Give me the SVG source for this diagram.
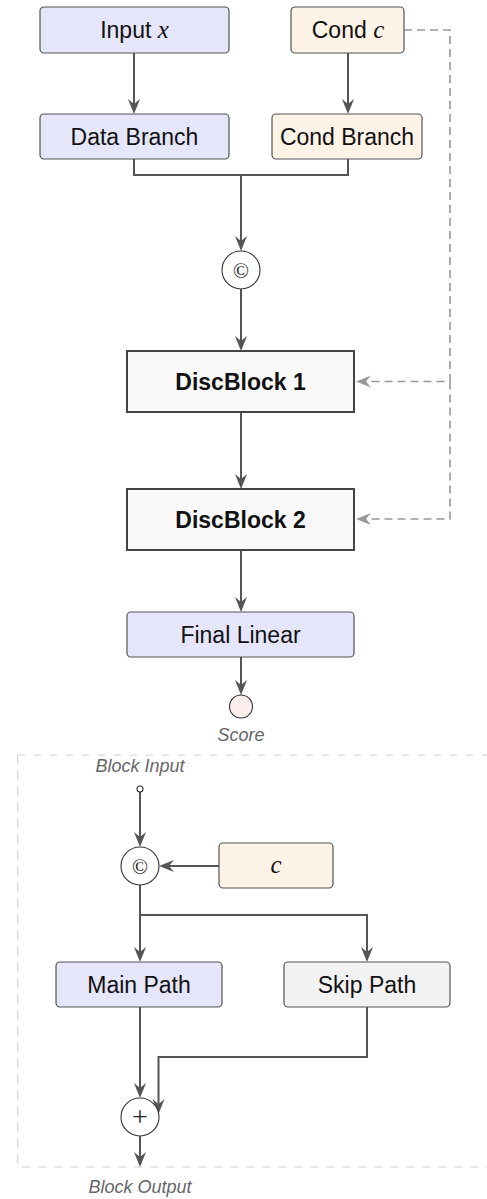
<svg xmlns="http://www.w3.org/2000/svg" width="487" height="1199" viewBox="0 0 487 1199">
<defs>
<style>
.node{stroke:#555;stroke-width:1.2}
.blue{fill:#e6e6fb}
.orange{fill:#fef3e7}
.gray{fill:#f2f2f2}
.disc{fill:#f8f8f8;stroke:#444;stroke-width:2}
.lbl{font-family:"Liberation Sans",Arial,sans-serif;font-size:23px;fill:#111;text-anchor:middle}
.bold{font-weight:bold}
.math{font-family:"Liberation Serif","Times New Roman",serif;font-style:italic;font-size:25px}
.cap{font-family:"Liberation Sans",Arial,sans-serif;font-style:italic;font-size:18px;fill:#666;text-anchor:middle}
.sym{font-family:"Liberation Serif","Times New Roman",serif;fill:#222;text-anchor:middle}
.op{fill:#fff;stroke:#333;stroke-width:1.1}
.edge{fill:none;stroke:#555;stroke-width:2}
.dash{fill:none;stroke:#999;stroke-width:1.6;stroke-dasharray:8 5}
</style>
<marker id="arr" markerUnits="userSpaceOnUse" markerWidth="16" markerHeight="14" viewBox="0 0 16 14" refX="5" refY="7" orient="auto">
<path d="M0,1 L15,7 L0,13 L5,7 z" fill="#555"/>
</marker>
<marker id="arrg" markerUnits="userSpaceOnUse" markerWidth="16" markerHeight="14" viewBox="0 0 16 14" refX="5" refY="7" orient="auto">
<path d="M0,1 L15,7 L0,13 L5,7 z" fill="#999"/>
</marker>
</defs>

<rect x="17.7" y="755" width="480" height="412" fill="none" stroke="#cfcfcf" stroke-width="1" stroke-dasharray="8 8"/>

<g id="connectors">
<path class="edge" d="M134,53 V104" marker-end="url(#arr)"/>
<path class="edge" d="M348,53 V104" marker-end="url(#arr)"/>
<path class="edge" d="M134,159 V175 H348 V159"/>
<path class="edge" d="M241,175 V241" marker-end="url(#arr)"/>
<path class="edge" d="M241,289 V341" marker-end="url(#arr)"/>
<path class="edge" d="M241,412 V479" marker-end="url(#arr)"/>
<path class="edge" d="M241,550 V602" marker-end="url(#arr)"/>
<path class="edge" d="M241,657 V685" marker-end="url(#arr)"/>
<path class="dash" d="M404,30 H450 V381.5 H366" marker-end="url(#arrg)"/>
<path class="dash" d="M450,381.5 V519 H366" marker-end="url(#arrg)"/>
<path class="edge" d="M140,792 V837" marker-end="url(#arr)"/>
<path class="edge" d="M219,866 H169" marker-end="url(#arr)"/>
<path class="edge" d="M140,885 V952" marker-end="url(#arr)"/>
<path class="edge" d="M140,915 H367 V952" marker-end="url(#arr)"/>
<path class="edge" d="M140,1007 V1088" marker-end="url(#arr)"/>
<path class="edge" d="M367,1007 V1057 H158.5 V1104" marker-end="url(#arr)"/>
<path class="edge" d="M140,1136 V1157" marker-end="url(#arr)"/>
</g>

<g id="input-x">
<rect class="node blue" x="40" y="7" width="189" height="46" rx="4"/>
<text class="lbl" x="134.5" y="37.5">Input <tspan class="math">x</tspan></text>
</g>
<g id="cond-c">
<rect class="node orange" x="291" y="7" width="113" height="46" rx="4"/>
<text class="lbl" x="348" y="37.5">Cond <tspan class="math">c</tspan></text>
</g>
<g id="data-branch">
<rect class="node blue" x="40" y="114" width="189" height="45" rx="4"/>
<text class="lbl" x="134.5" y="144.5">Data Branch</text>
</g>
<g id="cond-branch">
<rect class="node orange" x="272" y="114" width="150" height="45" rx="4"/>
<text class="lbl" x="347" y="144.5">Cond Branch</text>
</g>
<g id="concat1">
<circle class="op" cx="241" cy="270" r="19"/>
<text class="sym" x="241" y="277.5" font-size="21">©</text>
</g>
<g id="discblock1">
<rect class="disc" x="127" y="351" width="227" height="61"/>
<text class="lbl bold" x="240.5" y="390">DiscBlock 1</text>
</g>
<g id="discblock2">
<rect class="disc" x="127" y="489" width="227" height="61"/>
<text class="lbl bold" x="240.5" y="527.5">DiscBlock 2</text>
</g>
<g id="final-linear">
<rect class="node blue" x="127" y="612" width="227" height="45" rx="4"/>
<text class="lbl" x="240.5" y="643">Final Linear</text>
</g>
<g id="score">
<circle cx="241" cy="706.5" r="11.5" fill="#fdeeee" stroke="#333" stroke-width="1.1"/>
<text class="cap" x="241" y="741">Score</text>
</g>

<g id="block-input">
<text class="cap" x="140" y="772">Block Input</text>
<circle cx="140" cy="789" r="3" fill="#fff" stroke="#333" stroke-width="1.1"/>
</g>
<g id="concat2">
<circle class="op" cx="140" cy="866" r="19"/>
<text class="sym" x="140" y="873.5" font-size="21">©</text>
</g>
<g id="c-node">
<rect class="node orange" x="219" y="843" width="114" height="45" rx="4"/>
<text class="lbl" x="276" y="873"><tspan class="math">c</tspan></text>
</g>
<g id="main-path">
<rect class="node blue" x="56" y="962" width="166" height="45" rx="4"/>
<text class="lbl" x="139" y="992.5">Main Path</text>
</g>
<g id="skip-path">
<rect class="node gray" x="284" y="962" width="166" height="45" rx="4"/>
<text class="lbl" x="367" y="992.5">Skip Path</text>
</g>
<g id="add">
<circle class="op" cx="140" cy="1117" r="19"/>
<text class="sym" x="140" y="1126" font-size="28">+</text>
</g>
<g id="block-output">
<text class="cap" x="140" y="1193">Block Output</text>
</g>
</svg>
